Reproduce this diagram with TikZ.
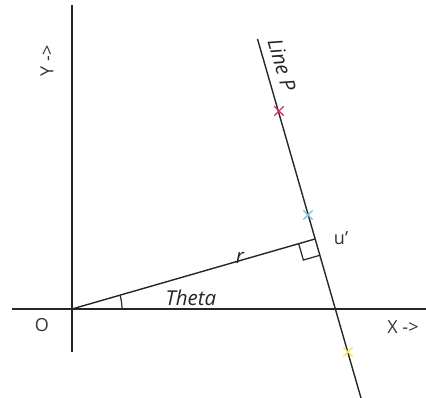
\documentclass[tikz,border=0pt]{standalone}
\usepackage{fontspec}
\setmainfont{Open Sans}
\usetikzlibrary{calc,shapes.misc}
\begin{document}
\begin{tikzpicture}[x=1pt,y=1pt,
  ln/.style={line width=1.4pt,black!85},
  lbl/.style={font=\fontsize{18}{20}\selectfont,text=black!80,inner sep=0pt},
  ilbl/.style={font=\fontsize{20.5}{22}\selectfont\itshape,text=black!85,inner sep=0pt},
  mk/.style={cross out,draw,line width=1.4pt,minimum size=8pt,inner sep=0pt}]
\useasboundingbox (0,0) rectangle (426,398);
\coordinate (O) at (72,89);
\coordinate (F) at (315,159);
\coordinate (T) at (257.5,359);
\coordinate (B) at (361,0);
\coordinate (Yt) at (72,393);
\coordinate (Yb) at (72,46);
\coordinate (Xl) at (12,89);
\coordinate (Xr) at (426,89);
% axes
\draw[ln] (Yb) -- (Yt);
\draw[ln] (Xl) -- (Xr);
% line P
\draw[ln] (T) -- (B);
% r
\draw[ln] (O) -- (F);
% right angle
\coordinate (c1) at ($(F)!17pt!(O)$);
\coordinate (c3) at ($(F)!17pt!(B)$);
\draw[line width=1.2pt,black!85] (c1) -- ($(c1)+(c3)-(F)$) -- (c3);
% angle arc
\draw[line width=1.2pt,black!85] ($(O)+(50,0)$) arc[start angle=0,end angle=16.07,radius=50];
% markers
\node[mk,draw={rgb,255:red,215;green,45;blue,80}] (m1) at (279,287) {};
\node[mk,draw={rgb,255:red,110;green,195;blue,215}] (m2) at (308,183) {};
\node[mk,draw={rgb,255:red,240;green,232;blue,70}] (m3) at (348,46) {};
% labels
\node[lbl,rotate=90] (ylab) at (47,337) {Y ->};
\node[lbl] (olab) at (42,73) {O};
\node[lbl] (xlab) at (403,71) {X ->};
\node[ilbl] (theta) at (191,100) {Theta};
\node[ilbl] (rlab) at (240,140) {r};
\node[lbl] (ulab) at (341,160) {u'};
\node[ilbl,rotate=-73.9] (plab) at (282,333) {Line P};
\end{tikzpicture}
\end{document}
